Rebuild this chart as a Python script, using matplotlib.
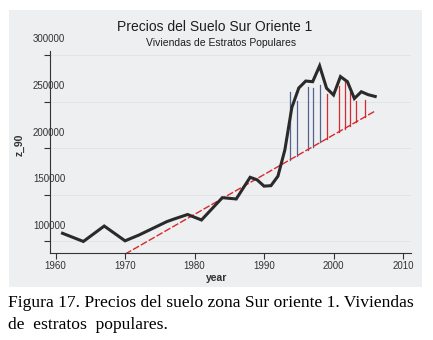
import numpy as np
import matplotlib.pyplot as plt
from matplotlib.patches import Rectangle
from matplotlib import transforms

# serie principal (z_90)
years = [1961, 1964, 1967, 1970, 1972, 1974, 1976, 1977, 1979, 1981, 1984, 1986,
         1988, 1989, 1990, 1991, 1992, 1993, 1994, 1995, 1996, 1997, 1998, 1999,
         2000, 2001, 2002, 2003, 2004, 2005, 2006]
z_90 = [108300, 99500, 116100, 100200, 106400, 113600, 120800, 123500, 128500,
        122600, 146600, 145200, 168500, 165800, 159000, 159500, 169700, 198000,
        243500, 264500, 272000, 271300, 288300, 264300, 257000, 276800, 271300,
        253200, 260500, 257300, 255400]

# recta de tendencia (extremos)
fit_years = [1961, 2006]
fit_vals = [47400, 239800]

# barras verticales sobre la tendencia
stem_years = [1993.8, 1994.8, 1996.3, 1997.0, 1998.1, 1999.0, 2000.8, 2001.6,
              2002.3, 2003.3, 2004.6]
stem_top = [260500, 251000, 266000, 264500, 268000, 258000, 266600, 273000,
            260000, 250500, 251600]
stem_base = [187550, 191830, 198260, 201250, 205960, 209820, 217530, 220950,
             223950, 228240, 233800]
stem_grupo = ['a', 'a', 'a', 'a', 'a', 'b', 'b', 'b', 'b', 'b', 'b']

xticks = [1960, 1970, 1980, 1990, 2000, 2010]
yticks = [100000, 150000, 200000, 250000, 300000]

W, H = 433, 340
fig = plt.figure(figsize=(W / 100, H / 100), dpi=100)
fig.patch.set_facecolor('white')

# panel gris
fig.patches.append(Rectangle((9 / W, 1 - 287 / H), 413 / W, 277 / H,
                             transform=fig.transFigure, facecolor='#eeeff1',
                             edgecolor='none', zorder=-5))

ax = fig.add_axes([50 / W, 1 - 253 / H, 361 / W, 202 / H])
ax.set_zorder(2)
ax.set_facecolor('none')

gris = '#333333'
for yt in yticks:
    ax.axhline(yt, color='#e2e4e8', lw=0.7, zorder=0)

colores = {'a': '#52638f', 'b': '#d42a2f'}
for sx, sb, st, g in zip(stem_years, stem_base, stem_top, stem_grupo):
    ax.plot([sx, sx], [sb, st], color=colores[g], lw=0.9, zorder=2)

ax.plot(fit_years, fit_vals, color='#d9282d', lw=1.0, dashes=(5, 1.5), zorder=3)
ax.plot(years, z_90, color='#2a2a2a', lw=2.2, zorder=4, solid_joinstyle='miter')

ax.set_xlim(1959.2, 2011.15)
ax.set_ylim(87100, 304300)
ax.set_xticks(xticks)
ax.set_yticks(yticks)
ax.set_yticklabels([])
ax.tick_params(axis='x', labelsize=7, colors=gris, length=4, width=0.8, pad=2)
ax.tick_params(axis='y', colors=gris, length=4, width=0.8)
for lbl in ax.get_xticklabels():
    lbl.set_family('Liberation Sans')

for s in ['top', 'right']:
    ax.spines[s].set_visible(False)
for s in ['left', 'bottom']:
    ax.spines[s].set_color(gris)
    ax.spines[s].set_linewidth(0.8)

# etiquetas del eje y desplazadas hacia arriba, centradas en el eje
trans = transforms.blended_transform_factory(ax.transAxes, ax.transData)
trans = trans + transforms.ScaledTranslation(-0.01, 0.155, fig.dpi_scale_trans)
for yt in yticks:
    ax.text(0, yt, str(yt), transform=trans, ha='center', va='center',
            fontsize=7, color=gris, family='Liberation Sans')

fig.text(217 / W, 1 - 278 / H, 'year', ha='center', va='center', fontsize=7.5,
         fontweight='bold', color=gris, family='Liberation Sans')
fig.text(20 / W, 1 - 145 / H, 'z_90', ha='center', va='center', fontsize=7.5,
         fontweight='bold', color=gris, rotation=90, family='Liberation Sans')

fig.text(215 / W, 1 - 27 / H, 'Precios del Suelo Sur Oriente 1', ha='center',
         va='center', fontsize=10, color='#1e1e1e', family='Liberation Sans')
fig.text(221 / W, 1 - 43 / H, 'Viviendas de Estratos Populares', ha='center',
         va='center', fontsize=7.5, color='#1e1e1e', family='Liberation Sans')

fig.text(8 / W, 1 - 303 / H,
         'Figura 17. Precios del suelo zona Sur oriente 1. Viviendas',
         ha='left', va='center', fontsize=12.6, color='black',
         family='Liberation Serif')
fig.text(8 / W, 1 - 325 / H, 'de  estratos  populares.', ha='left',
         va='center', fontsize=12.6, color='black', family='Liberation Serif')

fig.savefig('out.png', dpi=100)
